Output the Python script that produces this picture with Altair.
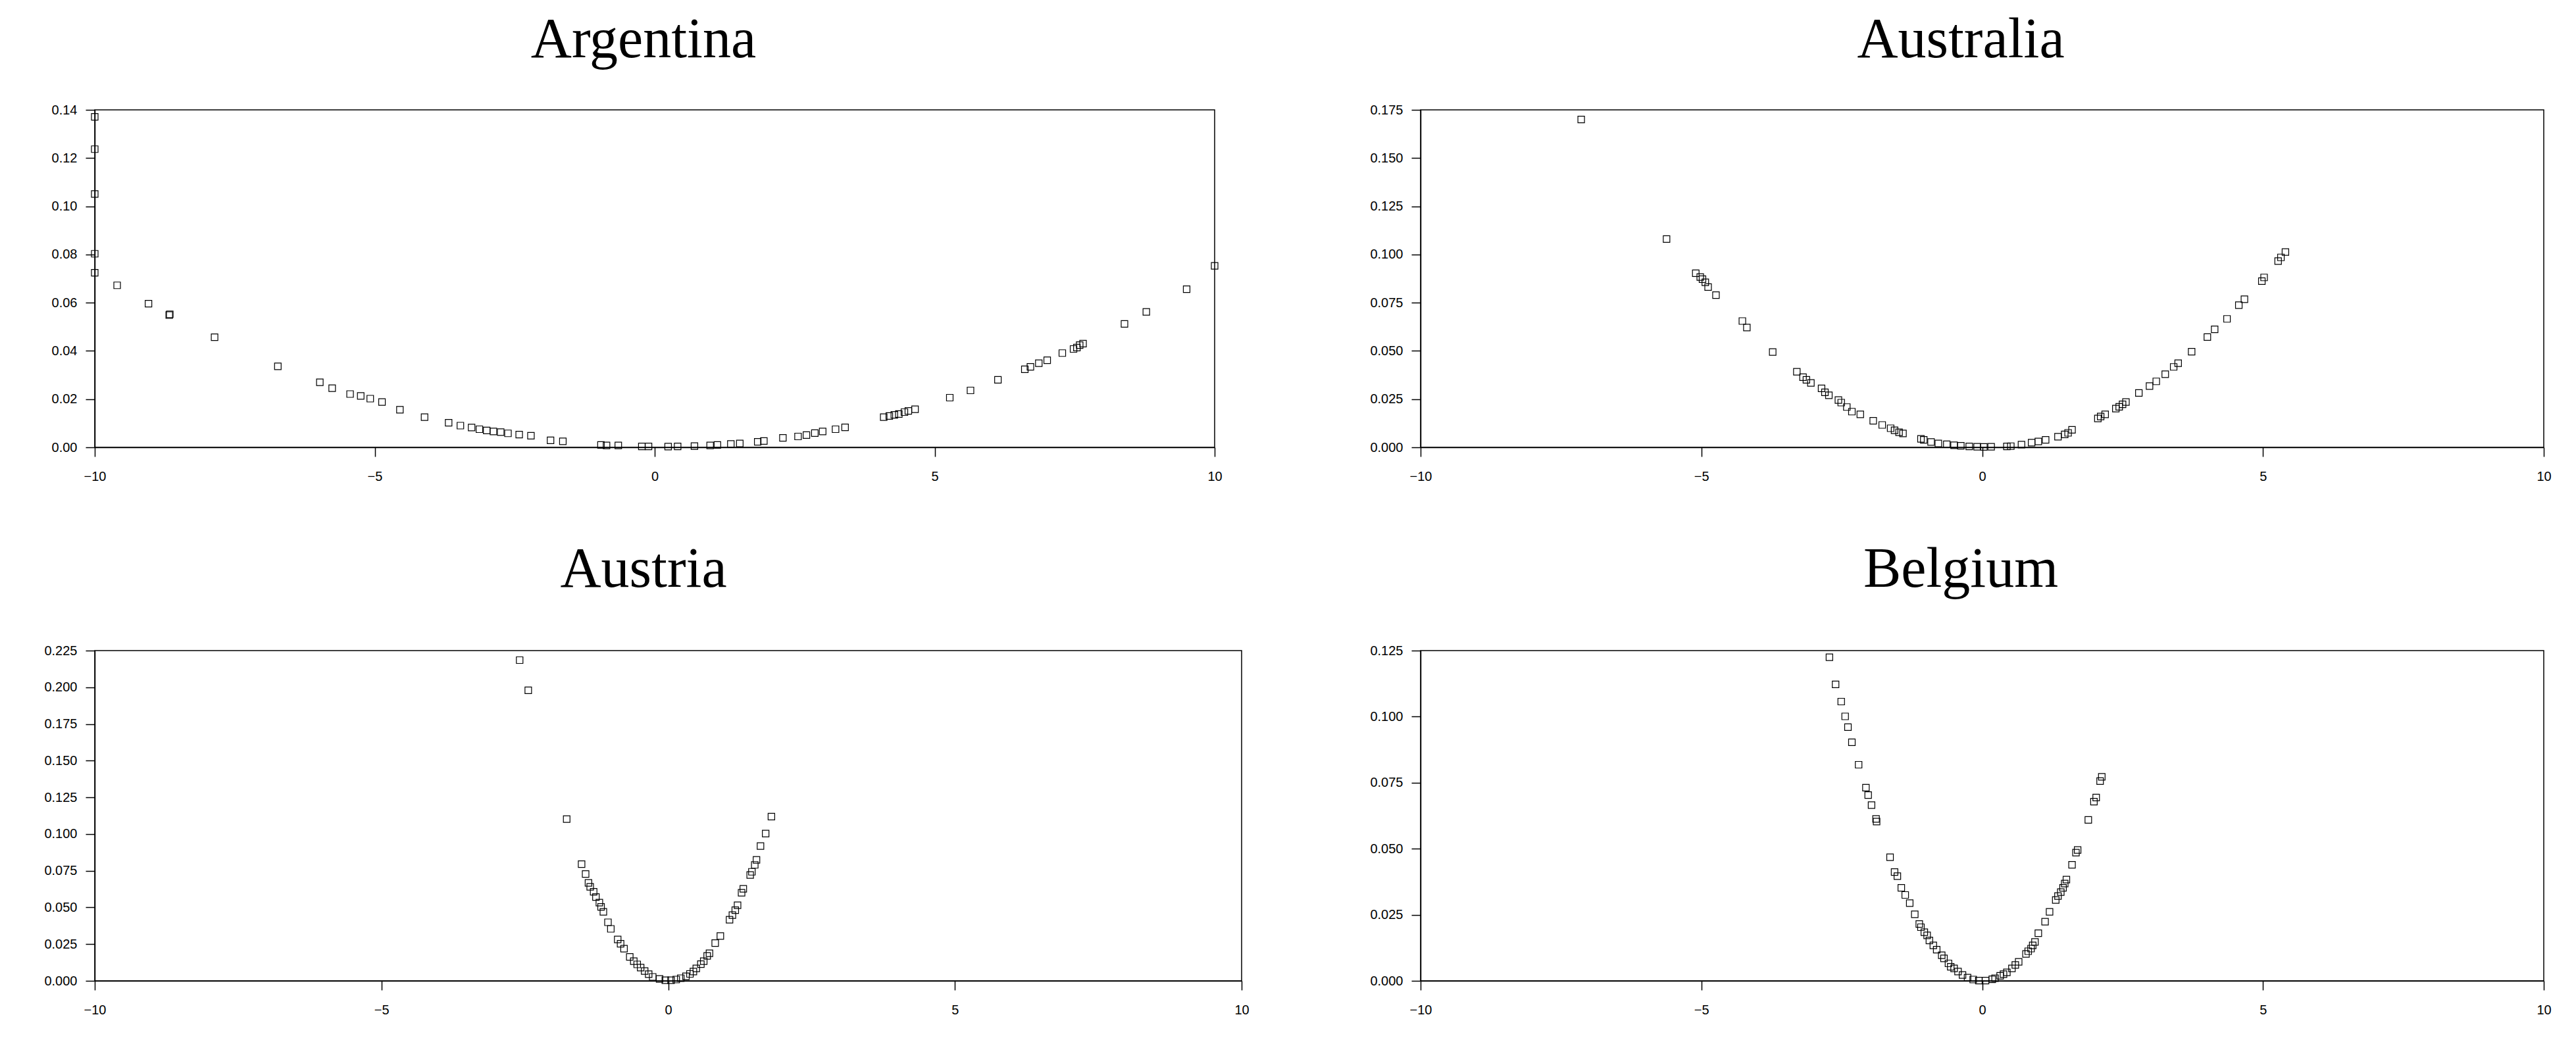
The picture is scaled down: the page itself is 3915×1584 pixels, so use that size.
import altair as alt
import pandas as pd

# ---------------- data ----------------
arg_x = [-10.0, -10.0, -10.0, -10.0, -10.0, -9.60, -9.04, -8.67, -8.66, -7.86, -6.73, -5.98, -5.76,
         -5.44, -5.25, -5.08, -4.87, -4.55, -4.11, -3.68, -3.47, -3.27, -3.13, -3.00, -2.88, -2.75,
         -2.62, -2.42, -2.21, -1.86, -1.64, -0.96, -0.86, -0.65, -0.23, -0.11, 0.24, 0.41, 0.71,
         0.99, 1.12, 1.36, 1.52, 1.84, 1.95, 2.29, 2.56, 2.71, 2.86, 3.00, 3.23, 3.40, 4.09, 4.19,
         4.28, 4.36, 4.46, 4.53, 4.65, 5.27, 5.64, 6.13, 6.61, 6.71, 6.86, 7.01, 7.28, 7.48, 7.54,
         7.59, 7.65, 8.39, 8.78, 9.50, 10.0]
arg_y = [0.1371, 0.1237, 0.1051, 0.0803, 0.0724, 0.0672, 0.0596, 0.0549, 0.0552, 0.0457, 0.0336,
         0.0270, 0.0245, 0.0221, 0.0213, 0.0202, 0.0188, 0.0156, 0.0125, 0.0102, 0.0090, 0.0082,
         0.0075, 0.0070, 0.0066, 0.0063, 0.0058, 0.0053, 0.0048, 0.0029, 0.0025, 0.0010, 0.0008,
         0.0008, 0.0004, 0.0004, 0.0003, 0.0004, 0.0005, 0.0008, 0.0010, 0.0014, 0.0016, 0.0023,
         0.0026, 0.0039, 0.0045, 0.0051, 0.0059, 0.0066, 0.0075, 0.0083, 0.0125, 0.0130, 0.0135,
         0.0138, 0.0146, 0.0151, 0.0158, 0.0206, 0.0236, 0.0280, 0.0324, 0.0334, 0.0349, 0.0361,
         0.0391, 0.0408, 0.0414, 0.0424, 0.0430, 0.0512, 0.0562, 0.0656, 0.0753]

aus_x = [-7.14, -5.62, -5.10, -5.02, -4.98, -4.93, -4.88, -4.74, -4.27, -4.19, -3.73, -3.30, -3.19,
         -3.13, -3.05, -2.86, -2.80, -2.73, -2.56, -2.51, -2.41, -2.32, -2.17, -1.94, -1.78, -1.63,
         -1.56, -1.48, -1.41, -1.09, -1.04, -0.91, -0.78, -0.63, -0.50, -0.38, -0.23, -0.09, 0.03,
         0.16, 0.44, 0.51, 0.70, 0.88, 1.00, 1.13, 1.35, 1.47, 1.53, 1.60, 2.06, 2.11, 2.19, 2.38,
         2.44, 2.50, 2.56, 2.79, 2.98, 3.10, 3.26, 3.41, 3.49, 3.73, 4.01, 4.14, 4.36, 4.57, 4.67,
         4.98, 5.02, 5.27, 5.32, 5.40]
aus_y = [0.170, 0.108, 0.0903, 0.0883, 0.0872, 0.0856, 0.0831, 0.0789, 0.0655, 0.0621, 0.0494,
         0.0392, 0.0364, 0.0350, 0.0334, 0.0306, 0.0285, 0.0270, 0.0245, 0.0232, 0.0209, 0.0185,
         0.0171, 0.0138, 0.0116, 0.0099, 0.0088, 0.0078, 0.0072, 0.0044, 0.0039, 0.0028, 0.0020,
         0.0016, 0.0011, 0.0008, 0.0005, 0.0003, 0.0002, 0.0003, 0.0005, 0.0006, 0.0014, 0.0024,
         0.0030, 0.0039, 0.0055, 0.0067, 0.0075, 0.0091, 0.0150, 0.0160, 0.0171, 0.0201, 0.0210,
         0.0223, 0.0235, 0.0282, 0.0318, 0.0342, 0.0379, 0.0417, 0.0436, 0.0496, 0.0572, 0.0612,
         0.0666, 0.0737, 0.0768, 0.0862, 0.0881, 0.0966, 0.0985, 0.1013]

aut_x = [-2.59, -2.44, -1.77, -1.51, -1.44, -1.39, -1.36, -1.30, -1.26, -1.20, -1.17, -1.13, -1.05,
         -1.00, -0.88, -0.83, -0.77, -0.67, -0.60, -0.54, -0.48, -0.41, -0.34, -0.27, -0.15, -0.05,
         0.05, 0.14, 0.22, 0.31, 0.38, 0.44, 0.49, 0.57, 0.62, 0.68, 0.72, 0.82, 0.91, 1.07, 1.12,
         1.17, 1.21, 1.28, 1.31, 1.43, 1.46, 1.51, 1.54, 1.61, 1.70, 1.80]
aut_y = [0.2185, 0.1979, 0.1102, 0.0795, 0.0728, 0.0667, 0.0640, 0.0607, 0.0571, 0.0533, 0.0504,
         0.0470, 0.0399, 0.0354, 0.0282, 0.0253, 0.0219, 0.0163, 0.0134, 0.0112, 0.0090, 0.0067,
         0.0045, 0.0027, 0.0013, 0.0004, 0.0004, 0.0009, 0.0018, 0.0031, 0.0047, 0.0063, 0.0085,
         0.0114, 0.0134, 0.0170, 0.0188, 0.0257, 0.0305, 0.0416, 0.0448, 0.0481, 0.0515, 0.0600,
         0.0627, 0.0721, 0.0743, 0.0790, 0.0824, 0.0918, 0.1003, 0.1119]

bel_x = [-2.72, -2.61, -2.51, -2.44, -2.39, -2.32, -2.20, -2.07, -2.03, -1.97, -1.89, -1.88, -1.64,
         -1.56, -1.51, -1.44, -1.37, -1.29, -1.20, -1.12, -1.09, -1.03, -0.98, -0.94, -0.87, -0.81,
         -0.72, -0.68, -0.60, -0.56, -0.50, -0.43, -0.35, -0.26, -0.16, -0.06, 0.06, 0.18, 0.23,
         0.32, 0.38, 0.44, 0.53, 0.59, 0.65, 0.78, 0.82, 0.87, 0.90, 0.94, 1.00, 1.12, 1.20, 1.31,
         1.35, 1.40, 1.44, 1.47, 1.50, 1.60, 1.67, 1.70, 1.89, 1.99, 2.03, 2.10, 2.13]
bel_y = [0.1225, 0.1122, 0.1057, 0.1001, 0.0960, 0.0903, 0.0818, 0.0731, 0.0703, 0.0665, 0.0613,
         0.0603, 0.0468, 0.0412, 0.0396, 0.0352, 0.0325, 0.0294, 0.0252, 0.0215, 0.0203, 0.0184,
         0.0172, 0.0153, 0.0134, 0.0118, 0.0097, 0.0085, 0.0066, 0.0053, 0.0047, 0.0035, 0.0022,
         0.0012, 0.0005, 0.0001, 0.0001, 0.0006, 0.0010, 0.0019, 0.0025, 0.0032, 0.0047, 0.0060,
         0.0072, 0.0102, 0.0112, 0.0122, 0.0134, 0.0147, 0.0180, 0.0224, 0.0261, 0.0306, 0.0321,
         0.0336, 0.0352, 0.0368, 0.0383, 0.0439, 0.0485, 0.0495, 0.0609, 0.0678, 0.0694, 0.0756,
         0.0772]

x_ticks = [-10, -5, 0, 5, 10]
arg_ticks = [0.00, 0.02, 0.04, 0.06, 0.08, 0.10, 0.12, 0.14]
aus_ticks = [0.000, 0.025, 0.050, 0.075, 0.100, 0.125, 0.150, 0.175]
aut_ticks = [0.000, 0.025, 0.050, 0.075, 0.100, 0.125, 0.150, 0.175, 0.200, 0.225]
bel_ticks = [0.000, 0.025, 0.050, 0.075, 0.100, 0.125]


def panel(name, xs, ys, yticks, fmt, width, height, extent, title_x, title_y):
    df = pd.DataFrame({"x": xs, "y": ys})
    yaxis = dict(values=yticks, format=fmt, labelPadding=13)
    if extent:
        yaxis["minExtent"] = extent
    pts = alt.Chart(df).mark_point(
        shape="square", filled=False, size=100, strokeWidth=1.2,
        color="black", opacity=1
    ).encode(
        x=alt.X("x:Q", title=None,
                scale=alt.Scale(domain=[-10, 10], nice=False, zero=False),
                axis=alt.Axis(values=x_ticks, format="d", labelPadding=20)),
        y=alt.Y("y:Q", title=None,
                scale=alt.Scale(domain=[yticks[0], yticks[-1]], nice=False, zero=False),
                axis=alt.Axis(**yaxis)),
    )
    ttl = alt.Chart(pd.DataFrame({"t": [name]})).mark_text(
        font="Liberation Serif", fontSize=86, color="black",
        align="center", baseline="alphabetic"
    ).encode(text="t:N", x=alt.value(title_x), y=alt.value(title_y))
    return alt.layer(pts, ttl).properties(width=width, height=height)


arg = panel("Argentina", arg_x, arg_y, arg_ticks, ".2f", 1702, 513, 0, 834, -80)
aus = panel("Australia", aus_x, aus_y, aus_ticks, ".3f", 1707, 513, 80, 821, -80)
aut = panel("Austria", aut_x, aut_y, aut_ticks, ".3f", 1743, 502, 135, 834, -97)
bel = panel("Belgium", bel_x, bel_y, bel_ticks, ".3f", 1707, 502, 80, 821, -97)

row1 = alt.hconcat(arg, aus, spacing=220)
row2 = alt.hconcat(aut, bel, spacing=179)

chart = alt.vconcat(
    row1, row2, spacing=87,
    padding={"left": 0, "top": 9, "right": 0, "bottom": 0}
).configure_view(
    stroke="black", strokeWidth=1.5
).configure_axis(
    grid=False, domainColor="black", domainWidth=1.5, tickColor="black", tickWidth=1.5,
    tickSize=14, labelColor="black", labelFont="Liberation Sans", labelFontSize=20,
    labelFlush=False, labelOverlap=False
)

chart.save("out.html", embed_options={"renderer": "svg", "actions": False})
